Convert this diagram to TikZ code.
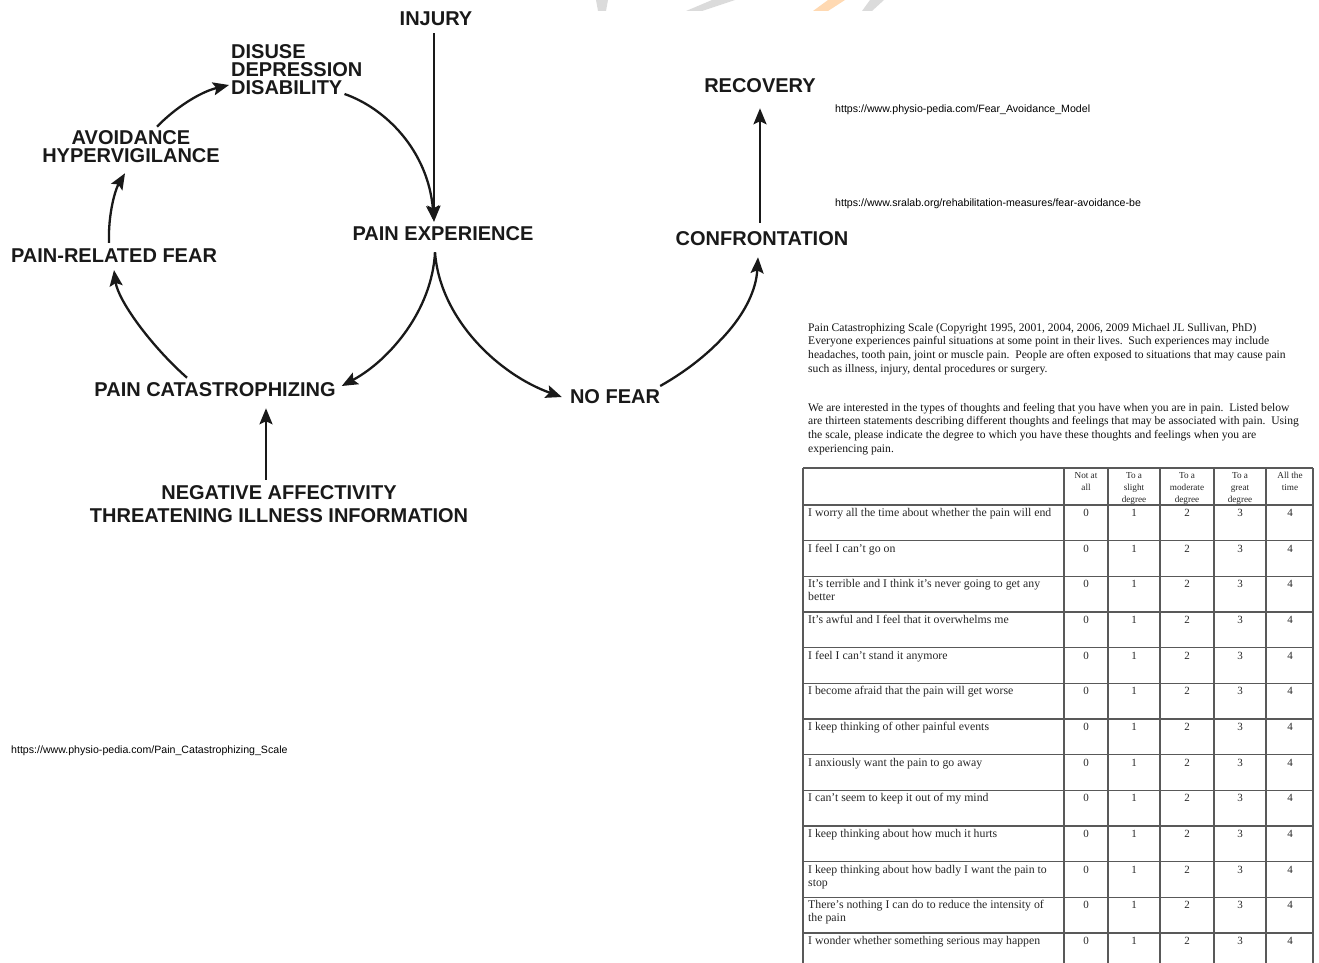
\documentclass[tikz,border=0pt]{standalone}
\usepackage{fontspec}
\setmainfont{Liberation Serif}
\newfontfamily\labfont{Liberation Sans}
\usetikzlibrary{arrows.meta}
\begin{document}
\begin{tikzpicture}[x=1pt,y=-1pt,
  lab/.style={font=\labfont\bfseries\fontsize{20}{18}\selectfont, text=black!90, inner sep=0pt},
  urltxt/.style={font=\labfont\fontsize{10.6}{12}\selectfont, inner sep=0pt, anchor=west},
  para/.style={font=\fontsize{11.6}{13.7}\selectfont, inner sep=0pt, anchor=base west, text=black!92},
  rowtxt/.style={font=\fontsize{11.8}{13}\selectfont, inner sep=0pt, anchor=base west, text=black!85},
  numtxt/.style={font=\fontsize{11}{12}\selectfont, inner sep=0pt, anchor=base, text=black!85},
  headtxt/.style={font=\fontsize{9.2}{12}\selectfont, inner sep=0pt, anchor=base, text=black!85},
  grid/.style={draw=black!65, line width=1.3pt},
  conn/.style={line width=2.3pt, draw=black!90, -{Stealth[length=16pt,width=13pt,inset=3pt]}}
]
\useasboundingbox (0,0) rectangle (1319,963);

% faint watermark fragments at the top edge
\fill[gray!28] (596,0) -- (608,0) -- (606,11) -- (598,11) -- cycle;
\fill[gray!28] (686,11) -- (702,11) -- (735,0) -- (712,0) -- cycle;
\fill[orange!30] (813,11) -- (828,11) -- (845,0) -- (828,0) -- cycle;
\fill[gray!28] (862,11) -- (872,11) -- (884,0) -- (870,0) -- cycle;

% ---------- fear-avoidance model ----------
\node[lab] (injury) at (436,19) {INJURY};
\node[lab, anchor=west] (disuse) at (231,52) {DISUSE};
\node[lab, anchor=west] (depress) at (231,70) {DEPRESSION};
\node[lab, anchor=west] (disab) at (231,88) {DISABILITY};
\node[lab] (avoid) at (131,138) {AVOIDANCE};
\node[lab] (hyper) at (131,156) {HYPERVIGILANCE};
\node[lab] (prfear) at (114,256) {PAIN-RELATED FEAR};
\node[lab] (painexp) at (443,234) {PAIN EXPERIENCE};
\node[lab] (catas) at (215,390) {PAIN CATASTROPHIZING};
\node[lab] (negaff) at (279,493) {NEGATIVE AFFECTIVITY};
\node[lab] (threat) at (279,516) {THREATENING ILLNESS INFORMATION};
\node[lab] (nofear) at (615,397) {NO FEAR};
\node[lab] (confront) at (762,239) {CONFRONTATION};
\node[lab] (recovery) at (760,86) {RECOVERY};

\draw[conn] ([shift={(-2,7)}]injury.south) -- ([shift={(-9,-5)}]painexp.north);
\draw[conn] ([shift={(2,6)}]disab.east) .. controls (385,108) and (428,150) .. ([shift={(-9,-5)}]painexp.north);
\draw[conn] ([shift={(-8,11)}]painexp.south) .. controls (432,310) and (390,360) .. ([shift={(6,-4)}]catas.east);
\draw[conn] ([shift={(-8,11)}]painexp.south) .. controls (440,320) and (500,375) .. ([shift={(-8,0)}]nofear.west);
\draw[conn] ([shift={(-28,-5)}]catas.north) .. controls (150,345) and (118,300) .. ([shift={(0,7)}]prfear.south);
\draw[conn] ([shift={(-5,-6)}]prfear.north) .. controls (108,215) and (115,190) .. ([shift={(-6,10)}]hyper.south);
\draw[conn] ([shift={(26,-4)}]avoid.north) .. controls (175,108) and (200,92) .. ([shift={(-2,-3)}]disab.west);
\draw[conn] ([shift={(-13,-6)}]negaff.north) -- ([shift={(51,11)}]catas.south);
\draw[conn] ([shift={(0,-11)}]nofear.east) .. controls (715,355) and (755,310) .. ([shift={(-4,11)}]confront.south);
\draw[conn] ([shift={(-2,-9)}]confront.north) -- ([shift={(0,15)}]recovery.south);

% ---------- URLs ----------
\node[urltxt] (url1) at (835,110) {https://www.physio-pedia.com/Fear\_Avoidance\_Model};
\node[urltxt] (url2) at (835,204) {https://www.sralab.org/rehabilitation-measures/fear-avoidance-be};
\node[urltxt] (url3) at (11,751) {https://www.physio-pedia.com/Pain\_Catastrophizing\_Scale};

% ---------- PCS text ----------
\node[para] (p1a) at (808,331) {Pain Catastrophizing Scale (Copyright 1995, 2001, 2004, 2006, 2009 Michael JL Sullivan, PhD)};
\node[para] (p1b) at (808,344.7) {Everyone experiences painful situations at some point in their lives.\ \ Such experiences may include};
\node[para] (p1c) at (808,358.4) {headaches, tooth pain, joint or muscle pain.\ \ People are often exposed to situations that may cause pain};
\node[para] (p1d) at (808,372) {such as illness, injury, dental procedures or surgery.};
\node[para] (p2a) at (808,411) {We are interested in the types of thoughts and feeling that you have when you are in pain.\ \ Listed below};
\node[para] (p2b) at (808,424.7) {are thirteen statements describing different thoughts and feelings that may be associated with pain.\ \ Using};
\node[para] (p2c) at (808,438.4) {the scale, please indicate the degree to which you have these thoughts and feelings when you are};
\node[para] (p2d) at (808,452) {experiencing pain.};

% ---------- table ----------
\draw[grid] (803,468) -- (1313,468);
\foreach \i in {0,...,12} { \draw[grid] (803,{505+35.67*\i}) -- (1313,{505+35.67*\i}); }
\foreach \x in {803,1064,1108,1160,1214,1266,1313} { \draw[grid] (\x,468) -- (\x,963); }

\node[headtxt] (h0a) at (1086,478) {Not at};
\node[headtxt] (h0b) at (1086,490) {all};
\node[headtxt] (h1a) at (1134,478) {To a};
\node[headtxt] (h1b) at (1134,490) {slight};
\node[headtxt] (h1c) at (1134,502) {degree};
\node[headtxt] (h2a) at (1187,478) {To a};
\node[headtxt] (h2b) at (1187,490) {moderate};
\node[headtxt] (h2c) at (1187,502) {degree};
\node[headtxt] (h3a) at (1240,478) {To a};
\node[headtxt] (h3b) at (1240,490) {great};
\node[headtxt] (h3c) at (1240,502) {degree};
\node[headtxt] (h4a) at (1290,478) {All the};
\node[headtxt] (h4b) at (1290,490) {time};

\foreach \a/\b [count=\i from 0] in {
  {I worry all the time about whether the pain will end}/{},
  {I feel I can’t go on}/{},
  {It’s terrible and I think it’s never going to get any}/{better},
  {It’s awful and I feel that it overwhelms me}/{},
  {I feel I can’t stand it anymore}/{},
  {I become afraid that the pain will get worse}/{},
  {I keep thinking of other painful events}/{},
  {I anxiously want the pain to go away}/{},
  {I can’t seem to keep it out of my mind}/{},
  {I keep thinking about how much it hurts}/{},
  {I keep thinking about how badly I want the pain to}/{stop},
  {There’s nothing I can do to reduce the intensity of}/{the pain},
  {I wonder whether something serious may happen}/{}} {
  \node[rowtxt] (r\i a) at (808,{516.5+35.67*\i}) {\a};
  \node[rowtxt] (r\i b) at (808,{529.5+35.67*\i}) {\b};
  \foreach \x [count=\k from 0] in {1086,1134,1187,1240,1290} {
    \node[numtxt] (n\i-\k) at (\x,{516.5+35.67*\i}) {\k};
  }
}
\end{tikzpicture}
\end{document}
